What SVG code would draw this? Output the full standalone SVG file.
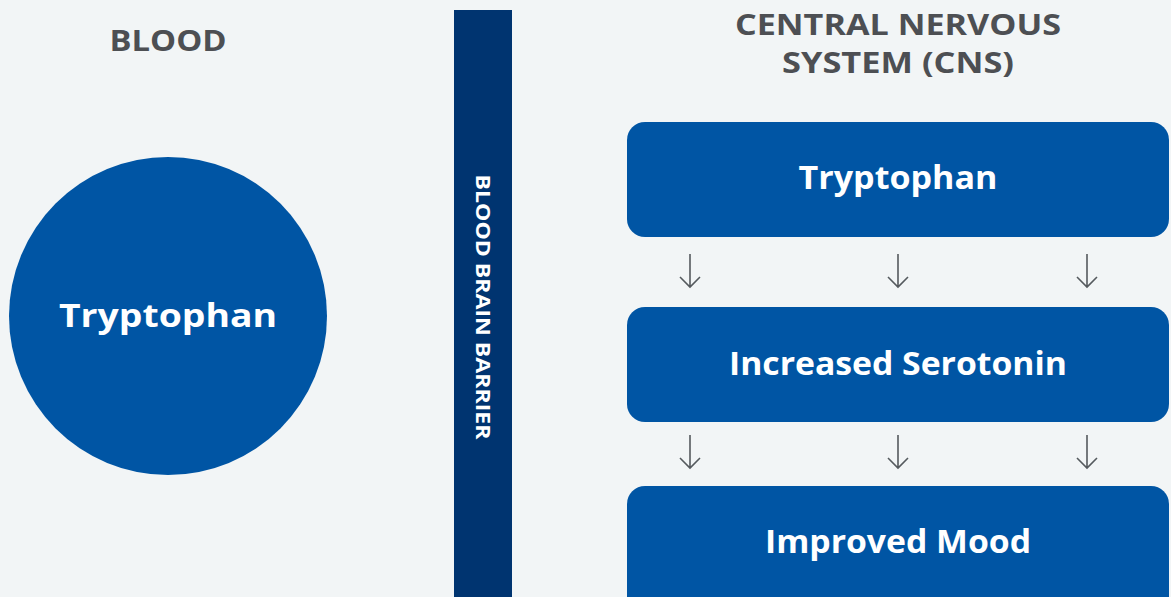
<svg xmlns="http://www.w3.org/2000/svg" width="1171" height="597" viewBox="0 0 1171 597">
<defs>
<style>
.hdr{font-family:"Open Sans","Liberation Sans",sans-serif;font-weight:700;font-size:29px;fill:#4d4f53;text-anchor:middle}
.lbl{font-family:"Open Sans","Liberation Sans",sans-serif;font-weight:700;font-size:33px;fill:#ffffff;text-anchor:middle}
.box{fill:#0055a4}
.arr{stroke:#555a5e;stroke-width:1.6;fill:none}
</style>
</defs>
<rect width="1171" height="597" fill="#f2f5f6"/>
<text class="hdr" x="168" y="51" textLength="117" lengthAdjust="spacingAndGlyphs">BLOOD</text>
<text class="hdr" x="898" y="35" textLength="326" lengthAdjust="spacingAndGlyphs">CENTRAL NERVOUS</text>
<text class="hdr" x="898" y="73" textLength="232" lengthAdjust="spacingAndGlyphs">SYSTEM (CNS)</text>
<g id="blood-tryptophan">
<circle class="box" cx="168" cy="316" r="159"/>
<text class="lbl" x="168" y="327" font-size="35" textLength="218" lengthAdjust="spacingAndGlyphs">Tryptophan</text>
</g>
<g id="barrier">
<rect x="454" y="10" width="58" height="587" fill="#003470"/>
<text transform="translate(476,307) rotate(90)" x="0" y="0" text-anchor="middle" font-family="Open Sans, Liberation Sans, sans-serif" font-weight="700" font-size="19" fill="#ffffff" textLength="265" lengthAdjust="spacingAndGlyphs">BLOOD BRAIN BARRIER</text>
</g>
<g id="cns-tryptophan">
<rect class="box" x="627" y="122" width="542" height="115" rx="18"/>
<text class="lbl" x="898" y="189" textLength="199" lengthAdjust="spacingAndGlyphs">Tryptophan</text>
</g>
<g id="serotonin">
<rect class="box" x="627" y="307" width="542" height="115" rx="18"/>
<text class="lbl" x="898" y="375" textLength="338" lengthAdjust="spacingAndGlyphs">Increased Serotonin</text>
</g>
<g id="mood">
<rect class="box" x="627" y="486" width="542" height="130" rx="18"/>
<text class="lbl" x="898" y="553" textLength="266" lengthAdjust="spacingAndGlyphs">Improved Mood</text>
</g>
<g id="connectors">
<path class="arr" d="M690 254V286M680 277L690 287L700 277"/>
<path class="arr" d="M898 254V286M888 277L898 287L908 277"/>
<path class="arr" d="M1087 254V286M1077 277L1087 287L1097 277"/>
<path class="arr" d="M690 435V467M680 458L690 468L700 458"/>
<path class="arr" d="M898 435V467M888 458L898 468L908 458"/>
<path class="arr" d="M1087 435V467M1077 458L1087 468L1097 458"/>
</g>
</svg>
